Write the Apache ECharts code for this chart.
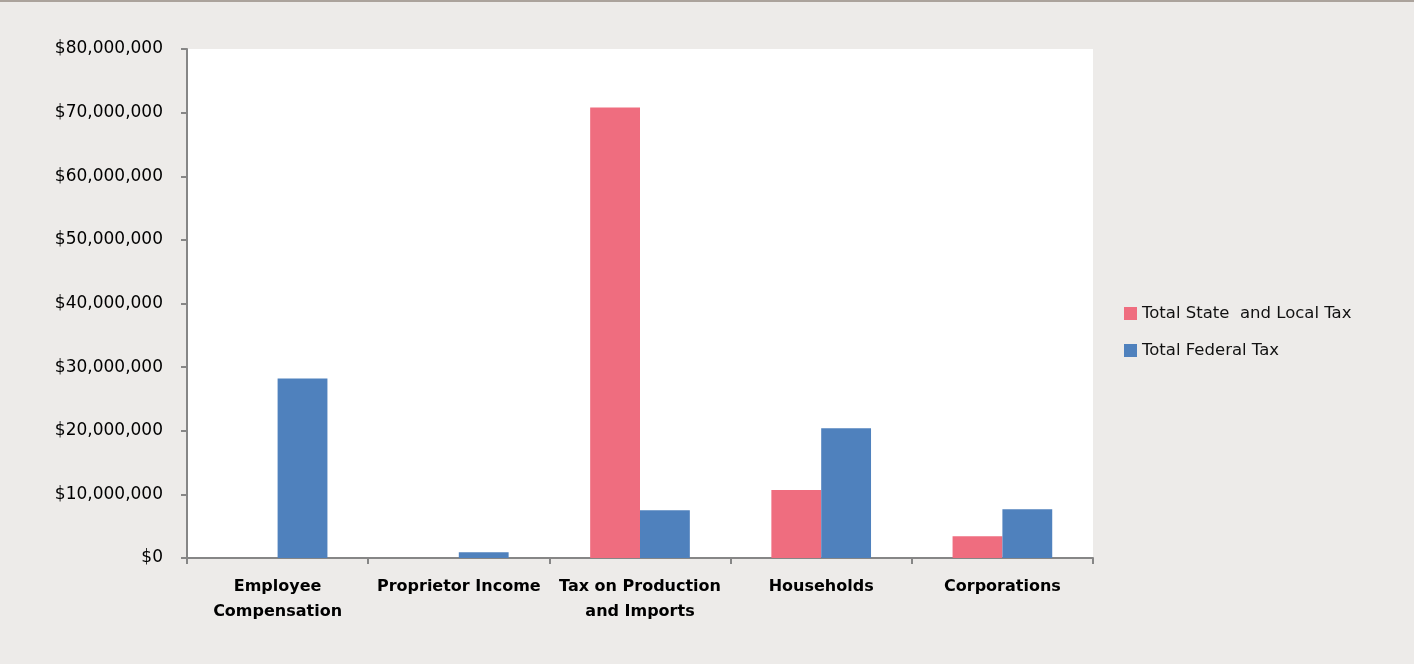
<!DOCTYPE html>
<html>
<head>
<meta charset="utf-8">
<script src="https://cdn.jsdelivr.net/npm/echarts@6/dist/echarts.min.js"></script>
<style>
  html, body { margin: 0; padding: 0; background: #ffffff; }
  #wrap { position: absolute; left: 0; top: 0; width: 1414px; height: 662px; background: #EDEBE9; border-top: 2px solid #ABA39C; }
  #chart { width: 1414px; height: 662px; }
</style>
</head>
<body>
<div id="wrap"><div id="chart"></div></div>
<script>
const categories = ['Employee\nCompensation', 'Proprietor Income', 'Tax on Production\nand Imports', 'Households', 'Corporations'];
const seriesNames = ['Total State  and Local Tax', 'Total Federal Tax'];
const stateLocalTax = [0, 0, 70800000, 10700000, 3400000];
const federalTax = [28200000, 900000, 7500000, 20400000, 7650000];
const yMin = 0, yMax = 80000000, yInterval = 10000000;

function fmtMoney(v) {
  return '$' + Math.round(v).toString().replace(/\B(?=(\d{3})+(?!\d))/g, ',');
}

const chart = echarts.init(document.getElementById('chart'), null, { renderer: 'canvas' });
const FONT = 'DejaVu Sans';
chart.setOption({
  backgroundColor: '#EDEBE9',
  animation: false,
  grid: { left: 187, right: 321, top: 47, bottom: 106, show: true, backgroundColor: '#ffffff', borderWidth: 0 },
  legend: {
    orient: 'vertical', left: 1124, top: 303, padding: 0,
    itemWidth: 13, itemHeight: 13, itemGap: 20, icon: 'rect',
    textStyle: { fontFamily: FONT, fontSize: 16.5, color: '#111' },
    data: seriesNames
  },
  xAxis: {
    type: 'category', data: categories,
    axisLine: { lineStyle: { color: '#868686', width: 2 } },
    axisTick: { show: true, length: 6, lineStyle: { color: '#868686', width: 2 } },
    axisLabel: { fontFamily: FONT, fontSize: 16, fontWeight: 'bold', color: '#000', margin: 16, lineHeight: 25, interval: 0 }
  },
  yAxis: {
    type: 'value', min: yMin, max: yMax, interval: yInterval,
    axisLine: { show: true, lineStyle: { color: '#868686', width: 2 } },
    axisTick: { show: true, length: 6, lineStyle: { color: '#868686', width: 2 } },
    splitLine: { show: false },
    axisLabel: { fontFamily: FONT, fontSize: 17, color: '#000', margin: 24, formatter: fmtMoney }
  },
  series: [
    { name: seriesNames[0], type: 'bar', data: stateLocalTax, barGap: '0%', barCategoryGap: '45%',
      itemStyle: { color: '#EF6D7F' } },
    { name: seriesNames[1], type: 'bar', data: federalTax, barGap: '0%', barCategoryGap: '45%',
      itemStyle: { color: '#4F81BD' } }
  ]
});
</script>
</body>
</html>
